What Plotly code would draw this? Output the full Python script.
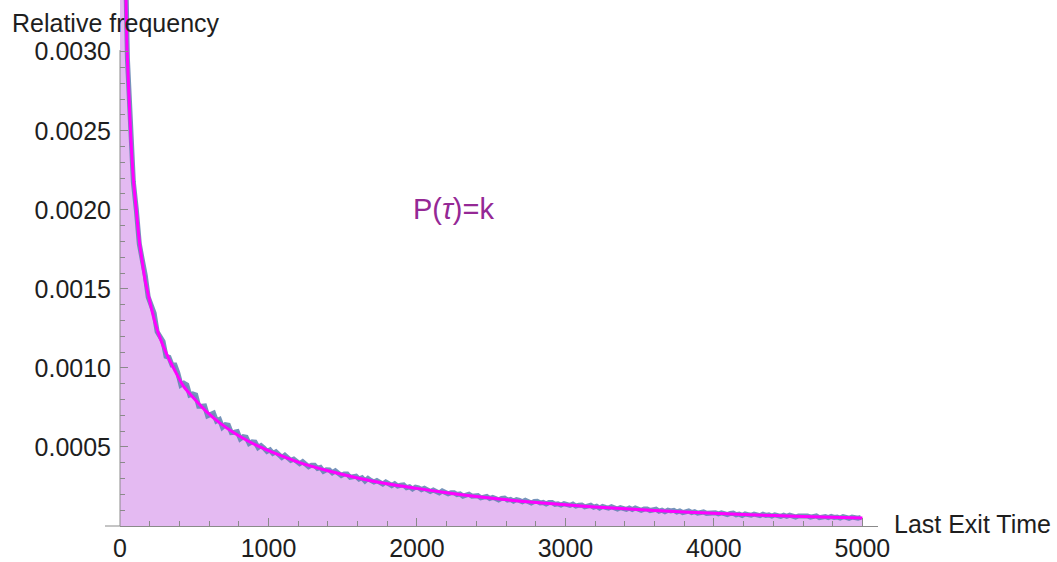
import numpy as np
import plotly.graph_objects as go

# ---- data (relative frequency in units of 1e-6) ----
bin_width = 20
hist_vals_e6 = [
    6775, 3923, 2957, 2531, 2175, 2001, 1785, 1684, 1587, 1448,
    1401, 1346, 1229, 1198, 1168, 1073, 1067, 1019, 1019, 967,
    892, 904, 893, 828, 835, 829, 758, 758, 760, 697,
    710, 714, 664, 674, 625, 641, 638, 591, 593, 597,
    551, 565, 562, 522, 532, 530, 496, 509, 493, 472,
    482, 459, 469, 452, 434, 448, 434, 415, 423, 410,
    394, 407, 394, 375, 385, 385, 364, 370, 346, 356,
    355, 337, 349, 333, 319, 329, 329, 308, 313, 315,
    297, 305, 285, 301, 288, 278, 287, 280, 265, 278,
    268, 256, 267, 253, 258, 260, 242, 248, 234, 246,
    242, 230, 238, 229, 218, 227, 222, 209, 222, 211,
    204, 211, 211, 199, 203, 189, 197, 201, 189, 191,
    192, 178, 183, 187, 174, 181, 174, 165, 175, 177,
    164, 168, 157, 167, 162, 153, 163, 156, 146, 155,
    156, 146, 149, 139, 149, 149, 137, 140, 133, 141,
    139, 130, 138, 126, 132, 133, 121, 127, 131, 119,
    125, 113, 124, 118, 113, 122, 116, 107, 116, 113,
    105, 114, 105, 114, 106, 99, 107, 108, 98, 102,
    106, 94, 100, 90, 100, 95, 99, 89, 95, 85,
    91, 95, 85, 91, 81, 87, 89, 80, 83, 86,
    84, 77, 83, 78, 72, 79, 81, 71, 75, 67,
    76, 72, 68, 75, 71, 65, 74, 67, 70, 63,
    71, 67, 61, 68, 61, 69, 63, 57, 64, 64,
    58, 64, 56, 59, 64, 53, 59, 60, 53, 60,
    54, 57, 50, 59, 55, 49, 56, 52, 49, 55,
]

curve_t = [30, 40, 47, 60, 74, 90, 111, 130, 150, 168, 190, 225, 260, 315, 370,
           427, 500, 584, 680, 764, 850, 942, 1033, 1200, 1400, 1600, 1800, 2000,
           2200, 2400, 2700, 3000, 3200, 3600, 4000, 4400, 4800, 5000]
curve_v_e6 = [3870, 3350, 3030, 2730, 2440, 2195, 1985, 1805, 1670, 1560, 1465, 1325,
              1215, 1085, 982, 885, 805, 722, 646, 592, 544, 500, 464, 404, 349, 304,
              267, 238, 210, 186, 157, 134, 120, 98, 80, 66, 55, 50]

x_tick_vals = [0, 1000, 2000, 3000, 4000, 5000]
y_tick_vals = [0.0005, 0.0010, 0.0015, 0.0020, 0.0025, 0.0030]
y_tick_text = ["0.0005", "0.0010", "0.0015", "0.0020", "0.0025", "0.0030"]

# ---- build ----
hist_vals = np.array(hist_vals_e6) * 1e-6
edges = np.arange(len(hist_vals) + 1) * bin_width
step_y = np.append(hist_vals, hist_vals[-1])
centers = (np.arange(len(hist_vals)) + 0.5) * bin_width

FONT = "Liberation Sans, Arial, sans-serif"
TXT = "#1e1e1e"
AX = "#8a8a8a"
FS = 25

fig = go.Figure()
fig.add_trace(go.Scatter(
    x=edges, y=step_y, mode="lines", line=dict(shape="hv", color="rgba(0,0,0,0)", width=0),
    fill="tozeroy", fillcolor="rgb(228,186,242)", hoverinfo="skip", showlegend=False))
fig.add_trace(go.Scatter(
    x=centers, y=hist_vals, mode="lines", line=dict(color="#5f82b0", width=5),
    opacity=0.85, hoverinfo="skip", showlegend=False))
fig.add_trace(go.Scatter(
    x=curve_t, y=np.array(curve_v_e6) * 1e-6, mode="lines",
    line=dict(shape="spline", smoothing=0.6, color="#ff00ff", width=3),
    hoverinfo="skip", showlegend=False))

W, H = 1057, 562
L, R, T, B = 120, 1057 - 878, 0, 562 - 529
pw = W - L - R

fig.update_layout(
    width=W, height=H, margin=dict(l=L, r=R, t=T, b=B),
    paper_bgcolor="white", plot_bgcolor="white",
    font=dict(family=FONT, size=FS, color=TXT),
    xaxis=dict(range=[0, 5105], showgrid=False, zeroline=False,
               showline=True, linecolor=AX, linewidth=1,
               tickmode="array", tickvals=x_tick_vals,
               ticks="inside", ticklen=8, tickcolor=AX, tickwidth=1,
               minor=dict(tickmode="linear", tick0=0, dtick=200, ticks="inside",
                          ticklen=5, tickcolor=AX, tickwidth=1),
               tickfont=dict(family=FONT, size=FS, color=TXT)),
    yaxis=dict(range=[0, 0.003327], showgrid=False, zeroline=False, showline=False,
               tickmode="array", tickvals=y_tick_vals, ticktext=y_tick_text,
               ticks="inside", ticklen=8, tickcolor=AX, tickwidth=1,
               ticklabelstandoff=8,
               minor=dict(tickmode="array",
                          tickvals=[v * 1e-4 for v in range(1, 30) if v % 5 != 0],
                          ticks="inside", ticklen=5, tickcolor=AX, tickwidth=1),
               tickfont=dict(family=FONT, size=FS, color=TXT)),
    shapes=[
        dict(type="line", xref="paper", yref="paper", x0=-15 / pw, x1=0, y0=0, y1=0,
             line=dict(color=AX, width=1)),
        dict(type="line", xref="paper", yref="y", x0=0, x1=0, y0=0, y1=0.00301,
             line=dict(color=AX, width=1), layer="above"),
    ],
    annotations=[
        dict(text="Relative frequency", xref="paper", yref="paper",
             x=(10 - L) / pw, y=(529 - 23) / 529, xanchor="left", yanchor="middle",
             showarrow=False, font=dict(family=FONT, size=FS, color=TXT)),
        dict(text="Last Exit Time", xref="paper", yref="paper",
             x=(892 - L) / pw, y=(529 - 527) / 529, xanchor="left", yanchor="middle",
             showarrow=False, font=dict(family=FONT, size=FS, color=TXT)),
        dict(text="P(<i>τ</i>)=k", xref="paper", yref="paper",
             x=(453 - L) / pw, y=(529 - 210) / 529, xanchor="center", yanchor="middle",
             showarrow=False, font=dict(family=FONT, size=29, color="#952895")),
    ],
)

fig.write_html("out.html")
